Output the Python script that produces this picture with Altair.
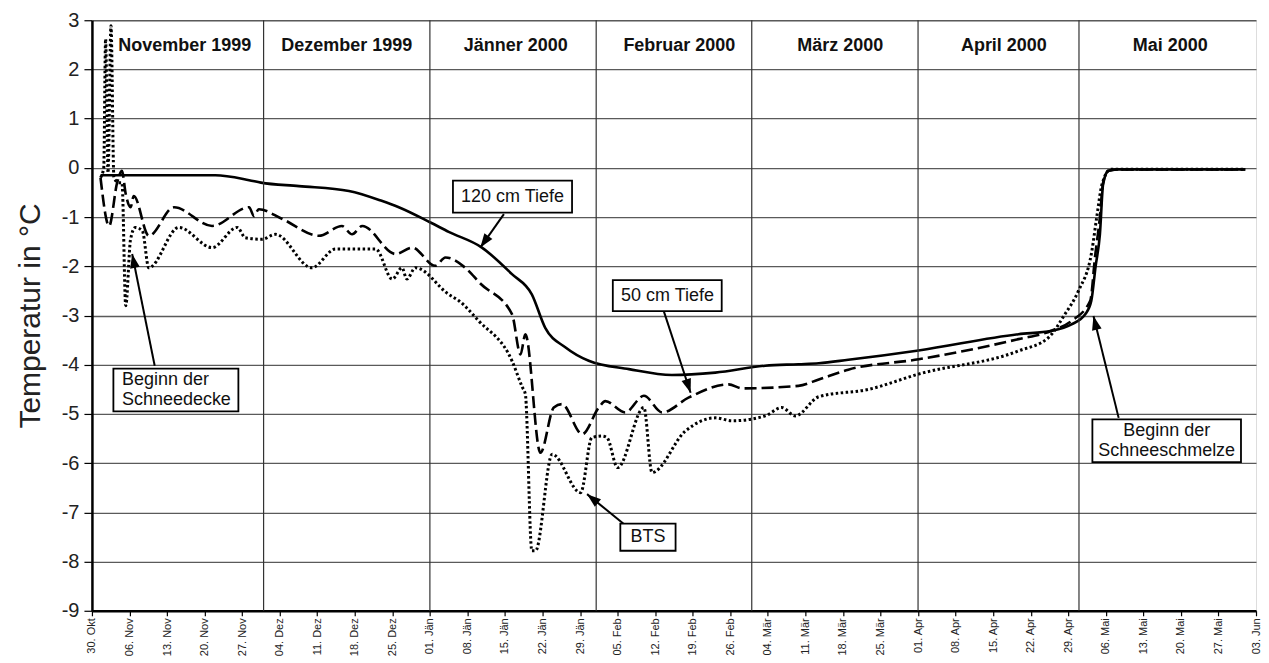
import math
import altair as alt
import pandas as pd

START = pd.Timestamp("1999-10-30")
FONT = "Liberation Sans"
W, H = 1165, 591
TOTAL_DAYS = 217
PX_DAY = W / TOTAL_DAYS
PX_UNIT = H / 12.0

# ---- data: day offset from 30 Oct 1999, temperature in °C ----
d120 = [1.6, 23.0, 29.3, 31.5, 38.6, 47.9, 54.0, 57.2, 63.1, 66.5,
        72.7, 78.3, 82.0, 84.5, 88.3, 92.6, 100.1, 108.1, 116.2, 125.5,
        131.7, 135.5, 141.0, 154.1, 172.7, 178.9, 182.6, 185.2, 186.3, 187.1,
        187.9, 188.5, 189.5, 191.4, 215.0]
v120 = [-0.15, -0.15, -0.25, -0.3, -0.37, -0.47, -0.67, -0.8, -1.11, -1.3,
        -1.62, -2.16, -2.57, -3.25, -3.65, -3.92, -4.09, -4.21, -4.16, -4.02,
        -3.99, -3.97, -3.9, -3.71, -3.38, -3.31, -3.18, -2.97, -2.7, -2.0,
        -1.35, -0.33, -0.06, -0.03, -0.03]

d50 = [1.6, 3.2, 4.7, 5.6, 6.3, 7.2, 7.8, 10.6, 15.3, 22.4,
       29.3, 30.2, 31.1, 35.5, 42.3, 46.6, 48.5, 50.4, 56.6, 59.7,
       64.0, 65.9, 69.6, 72.4, 78.3, 79.9, 80.8, 83.6, 86.1, 87.6,
       91.4, 94.5, 95.7, 99.4, 102.9, 106.3, 111.2, 118.7, 121.2, 131.7,
       135.5, 141.0, 154.1, 172.7, 178.9, 182.6, 186.1, 187.0, 187.9, 188.5,
       189.5, 191.4, 215.0]
v50 = [-0.2, -1.18, -0.3, -0.06, -0.53, -0.8, -0.57, -1.38, -0.8, -1.18,
       -0.8, -0.98, -0.84, -1.04, -1.38, -1.18, -1.35, -1.18, -1.75, -1.62,
       -1.99, -1.82, -2.03, -2.35, -2.97, -3.79, -3.38, -5.79, -4.87, -4.8,
       -5.41, -4.87, -4.74, -4.97, -4.63, -4.97, -4.67, -4.4, -4.48, -4.43,
       -4.3, -4.1, -3.89, -3.48, -3.31, -3.11, -2.7, -1.8, -1.0, -0.3,
       -0.06, -0.03, -0.03]

dBTS = [1.6, 2.2, 2.55, 3.0, 3.55, 4.1, 5.0, 5.6, 6.3, 7.2,
        8.1, 9.4, 10.6, 16.2, 22.4, 27.1, 28.6, 31.7, 34.2, 41.0,
        45.4, 52.9, 56.0, 57.8, 58.7, 60.3, 66.5, 68.4, 72.1, 78.3,
        80.2, 80.8, 82.0, 82.7, 85.8, 91.1, 93.2, 95.1, 96.0, 98.0,
        102.9, 104.4, 110.6, 116.2, 119.3, 125.5, 128.6, 131.1, 135.5, 144.8,
        154.1, 172.7, 178.3, 181.4, 183.9, 186.4, 187.3, 188.3, 189.9, 215.0]
vBTS = [-0.2, 0.0, 2.62, -0.1, 2.89, -0.2, -0.3, -0.3, -2.8, -1.45,
        -1.21, -1.28, -2.03, -1.21, -1.62, -1.21, -1.42, -1.45, -1.35, -2.03,
        -1.65, -1.65, -2.26, -2.03, -2.26, -2.03, -2.57, -2.7, -3.11, -3.92,
        -4.45, -4.6, -7.78, -7.78, -5.82, -6.6, -5.48, -5.45, -5.48, -6.09,
        -4.87, -6.19, -5.35, -5.08, -5.14, -5.04, -4.87, -5.04, -4.65, -4.5,
        -4.19, -3.72, -3.45, -2.97, -2.5, -1.69, -1.01, -0.33, -0.03, -0.03]

tick_dates = ["1999-10-30", "1999-11-06", "1999-11-13", "1999-11-20", "1999-11-27",
              "1999-12-04", "1999-12-11", "1999-12-18", "1999-12-25", "2000-01-01",
              "2000-01-08", "2000-01-15", "2000-01-22", "2000-01-29", "2000-02-05",
              "2000-02-12", "2000-02-19", "2000-02-26", "2000-03-04", "2000-03-11",
              "2000-03-18", "2000-03-25", "2000-04-01", "2000-04-08", "2000-04-15",
              "2000-04-22", "2000-04-29", "2000-05-06", "2000-05-13", "2000-05-20",
              "2000-05-27", "2000-06-03"]
month_names_de = ["Jän", "Feb", "Mär", "Apr", "Mai", "Jun", "Jul", "Aug", "Sep", "Okt", "Nov", "Dez"]

month_starts = ["1999-12-01", "2000-01-01", "2000-02-01", "2000-03-01", "2000-04-01", "2000-05-01"]
month_labels = ["November 1999", "Dezember 1999", "Jänner 2000", "Februar 2000",
                "März 2000", "April 2000", "Mai 2000"]
month_label_days = [17.3, 47.5, 79.0, 109.5, 139.5, 170.0, 201.0]
month_label_y = 2.47

# annotations (day offsets / temperatures)
box_x1 = [67.3, 97.1, 98.5, 4.0, 186.5]
box_x2 = [89.5, 117.4, 108.8, 27.3, 214.2]
box_y1 = [-0.26, -2.28, -7.23, -4.08, -5.11]
box_y2 = [-0.91, -2.91, -7.78, -4.95, -5.98]

center_texts = ["120 cm Tiefe", "50 cm Tiefe", "BTS", "Beginn der\nSchneeschmelze"]
center_text_x = [78.4, 107.3, 103.65, 200.35]
center_text_y = [-0.585, -2.595, -7.505, -5.34]
left_texts = ["Beginn der\nSchneedecke"]
left_text_x = [5.6]
left_text_y = [-4.31]

arrow_tail_x = [76.8, 106.6, 99.1, 11.7, 191.4]
arrow_tail_y = [-0.94, -2.91, -7.23, -4.02, -5.08]
arrow_tip_x = [72.4, 111.6, 92.3, 7.5, 186.7]
arrow_tip_y = [-1.62, -4.57, -6.63, -1.75, -3.01]


def to_date(days):
    return [START + pd.Timedelta(days=float(d)) for d in days]


def dt(s):
    t = pd.Timestamp(s)
    return alt.DateTime(year=t.year, month=t.month, date=t.day)


df120 = pd.DataFrame({"date": to_date(d120), "v": v120})
df50 = pd.DataFrame({"date": to_date(d50), "v": v50})
dfBTS = pd.DataFrame({"date": to_date(dBTS), "v": vBTS})

x_scale = alt.Scale(domain=[dt("1999-10-30"), dt("2000-06-03")], nice=False)
y_scale = alt.Scale(domain=[-9, 3], nice=False, zero=False)

label_expr = ("timeFormat(datum.value, '%d') + '. ' + ["
              + ",".join("'" + m + "'" for m in month_names_de)
              + "][month(datum.value)]")

x_axis = alt.Axis(values=[dt(s) for s in tick_dates], tickCount=64, labelExpr=label_expr,
                  labelAngle=270, labelFontSize=11, labelPadding=2, tickSize=5,
                  labelOverlap=False, labelBound=False, labelFlush=False,
                  grid=False, title=None, labelFont=FONT, labelColor="#222",
                  domainColor="black", domainWidth=2.5, tickColor="black", tickWidth=1.2)
y_axis = alt.Axis(values=list(range(-9, 4)), labelExpr="'' + datum.value",
                  title="Temperatur in °C", titleFontSize=30, titleFontWeight="normal",
                  titleFont=FONT, titlePadding=16, titleColor="#222",
                  labelFont=FONT, labelFontSize=20, labelPadding=5, labelColor="#222",
                  tickSize=8, tickColor="black", tickWidth=1.2,
                  grid=True, gridColor="#5a5a5a", gridWidth=1.3,
                  domainColor="black", domainWidth=2.5)

X = alt.X("date:T", scale=x_scale, axis=x_axis)
Y = alt.Y("v:Q", scale=y_scale, axis=y_axis)

base120 = alt.Chart(df120).mark_line(color="black", strokeWidth=2.6, interpolate="monotone").encode(x=X, y=Y)
base50 = alt.Chart(df50).mark_line(color="black", strokeWidth=2.6, strokeDash=[12, 5],
                                   interpolate="monotone").encode(x="date:T", y="v:Q")
baseBTS = alt.Chart(dfBTS).mark_line(color="black", strokeWidth=3, strokeDash=[2.5, 2.5],
                                     interpolate="monotone").encode(x="date:T", y="v:Q")

rules = alt.Chart(pd.DataFrame({"date": [pd.Timestamp(s) for s in month_starts]})).mark_rule(
    color="#333", strokeWidth=1.2).encode(x="date:T")

mdf = pd.DataFrame({"date": to_date(month_label_days), "v": [month_label_y] * len(month_labels),
                    "t": month_labels})
mtext = alt.Chart(mdf).mark_text(font=FONT, fontSize=18, fontWeight="bold", color="#111",
                                 baseline="middle", align="center").encode(x="date:T", y="v:Q", text="t:N")

bdf = pd.DataFrame({"x1": to_date(box_x1), "x2": to_date(box_x2), "y1": box_y1, "y2": box_y2})
boxes = alt.Chart(bdf).mark_rect(fill="white", stroke="black", strokeWidth=1.8).encode(
    x="x1:T", x2="x2:T", y="y1:Q", y2="y2:Q")

cdf = pd.DataFrame({"date": to_date(center_text_x), "v": center_text_y, "t": center_texts})
ctext = alt.Chart(cdf).mark_text(font=FONT, fontSize=18, color="#111", align="center",
                                 baseline="middle", lineBreak="\n", lineHeight=20).encode(
    x="date:T", y="v:Q", text="t:N")
ldf = pd.DataFrame({"date": to_date(left_text_x), "v": left_text_y, "t": left_texts})
ltext = alt.Chart(ldf).mark_text(font=FONT, fontSize=18, color="#111", align="left",
                                 baseline="middle", lineBreak="\n", lineHeight=20).encode(
    x="date:T", y="v:Q", text="t:N")

angles = []
for tx, ty, px, py in zip(arrow_tail_x, arrow_tail_y, arrow_tip_x, arrow_tip_y):
    dx = (px - tx) * PX_DAY
    dy = -(py - ty) * PX_UNIT
    angles.append(math.degrees(math.atan2(dx, -dy)) % 360)

adf = pd.DataFrame({"tx": to_date(arrow_tail_x), "ty": arrow_tail_y,
                    "px": to_date(arrow_tip_x), "py": arrow_tip_y, "ang": angles})
shafts = alt.Chart(adf).mark_rule(color="black", strokeWidth=2).encode(
    x="tx:T", y="ty:Q", x2="px:T", y2="py:Q")
heads = alt.Chart(adf).mark_point(shape="M0,0L-0.7,2L0.7,2Z", filled=True, color="black",
                                  opacity=1, size=196, strokeWidth=0).encode(
    x="px:T", y="py:Q", angle=alt.Angle("ang:Q", scale=None))

chart = alt.layer(base120, rules, base50, baseBTS, shafts, heads, boxes, ctext, ltext, mtext).properties(
    width=W, height=H, padding={"left": 7, "top": 2, "right": 0, "bottom": 0}
).configure_view(stroke="black", strokeWidth=2.5).configure(background="white")

chart.save("out.html", embed_options={"renderer": "svg", "actions": False})
